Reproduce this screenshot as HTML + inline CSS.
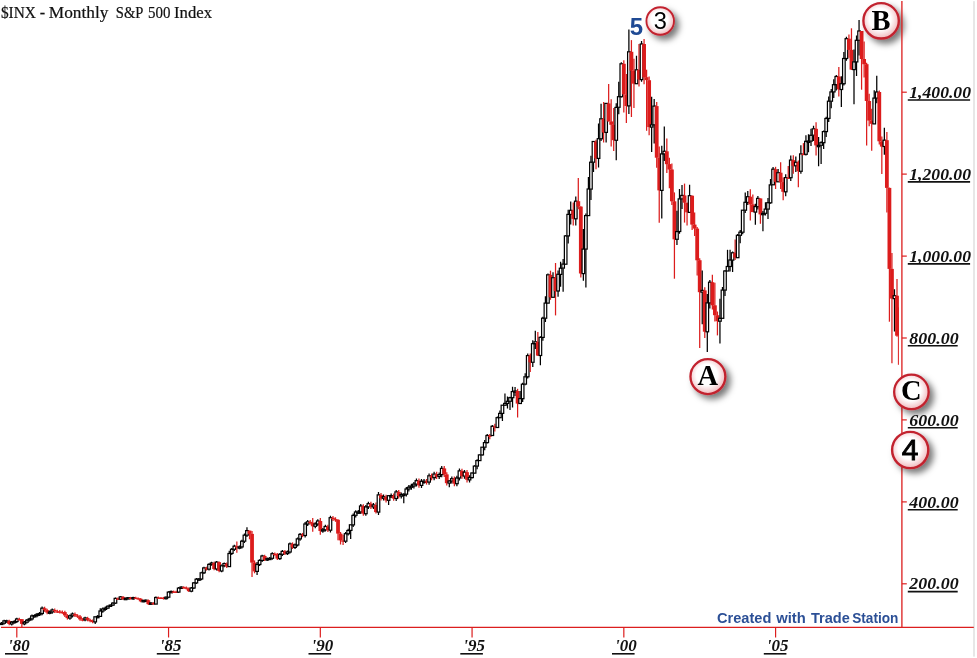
<!DOCTYPE html>
<html><head><meta charset="utf-8"><title>$INX - Monthly S&amp;P 500 Index</title>
<style>
html,body{margin:0;padding:0;background:#fff;}
body{width:977px;height:658px;overflow:hidden;position:relative;}
svg{position:absolute;left:0;top:0;display:block}
.ser{font-family:"Liberation Serif",serif;}
.ttl{font-family:"Liberation Serif",serif;font-size:15.8px;fill:#111;stroke:#111;stroke-width:0.2px;}
.ax{font-family:"Liberation Serif",serif;font-weight:bold;font-style:italic;font-size:16px;fill:#111;}
.mk{font-family:"Liberation Serif",serif;font-weight:bold;fill:#000;}
.ms{font-family:"Liberation Sans",sans-serif;fill:#000;}
.cr{font-family:"Liberation Sans",sans-serif;font-weight:bold;font-size:15.2px;fill:#2b4f96;}
.five{font-family:"Liberation Sans",sans-serif;font-weight:bold;font-size:24px;fill:#1f4a94;}
</style></head><body>
<svg width="977" height="658" viewBox="0 0 977 658">
<defs>
<radialGradient id="rg" cx="47%" cy="45%" r="55%"><stop offset="0" stop-color="#fff"/><stop offset="0.55" stop-color="#fff"/><stop offset="1" stop-color="#f0b9bd"/></radialGradient>
<filter id="sh" x="-40%" y="-40%" width="200%" height="200%"><feDropShadow dx="4.2" dy="4.2" stdDeviation="3" flood-color="#000" flood-opacity="0.52"/></filter>
<filter id="bl" x="0" y="0" width="977" height="658" filterUnits="userSpaceOnUse"><feGaussianBlur stdDeviation="0.25"/></filter>
</defs>
<rect width="977" height="658" fill="#fff"/>
<rect x="973" y="1.2" width="2" height="655.4" fill="#e7e7e7"/>

<text y="17.7" class="ttl"><tspan x="0.9" textLength="35.0" lengthAdjust="spacingAndGlyphs">$INX</tspan> <tspan x="39.8" textLength="5.4" lengthAdjust="spacingAndGlyphs">-</tspan> <tspan x="48.8" textLength="59.6" lengthAdjust="spacingAndGlyphs">Monthly</tspan> <tspan x="115.8" textLength="27.0" lengthAdjust="spacingAndGlyphs">S&amp;P</tspan> <tspan x="148.1" textLength="22.4" lengthAdjust="spacingAndGlyphs">500</tspan> <tspan x="174.0" textLength="38.0" lengthAdjust="spacingAndGlyphs">Index</tspan></text>
<g id="candles" filter="url(#bl)"><path d="M1.62 622.0V623.2M1.62 623.6V624.9" stroke="#000" stroke-width="1.25"/>
<rect x="0.33" y="623.2" width="2.58" height="1.3" fill="#fff" stroke="#000" stroke-width="1.22"/>
<path d="M4.15 619.7V620.9M4.15 623.2V624.6" stroke="#000" stroke-width="1.25"/>
<rect x="2.86" y="620.9" width="2.58" height="2.3" fill="#fff" stroke="#000" stroke-width="1.22"/>
<path d="M6.68 619.7V620.9M6.68 620.9V622.3" stroke="#000" stroke-width="1.25"/>
<rect x="5.39" y="620.9" width="2.58" height="1.3" fill="#fff" stroke="#000" stroke-width="1.22"/>
<path d="M9.21 619.8V625.3" stroke="#dc1e1e" stroke-width="1.25"/>
<rect x="7.31" y="620.9" width="3.8" height="3.1" fill="#dc1e1e"/>
<path d="M11.74 621.1V622.2M11.74 624.0V625.4" stroke="#000" stroke-width="1.25"/>
<rect x="10.45" y="622.2" width="2.58" height="1.8" fill="#fff" stroke="#000" stroke-width="1.22"/>
<path d="M14.27 620.3V621.5M14.27 622.2V623.6" stroke="#000" stroke-width="1.25"/>
<rect x="12.98" y="621.5" width="2.58" height="1.3" fill="#fff" stroke="#000" stroke-width="1.22"/>
<path d="M16.80 617.7V619.0M16.80 621.5V622.9" stroke="#000" stroke-width="1.25"/>
<rect x="15.51" y="619.0" width="2.58" height="2.5" fill="#fff" stroke="#000" stroke-width="1.22"/>
<path d="M19.33 617.7V620.6" stroke="#dc1e1e" stroke-width="1.25"/>
<rect x="17.43" y="619.0" width="3.8" height="1.3" fill="#dc1e1e"/>
<path d="M21.86 618.9V627.1" stroke="#dc1e1e" stroke-width="1.25"/>
<rect x="19.96" y="619.2" width="3.8" height="4.7" fill="#dc1e1e"/>
<path d="M24.39 621.0V622.2M24.39 623.9V625.2" stroke="#000" stroke-width="1.25"/>
<rect x="23.10" y="622.2" width="2.58" height="1.7" fill="#fff" stroke="#000" stroke-width="1.22"/>
<path d="M26.92 618.9V620.2M26.92 622.2V623.6" stroke="#000" stroke-width="1.25"/>
<rect x="25.63" y="620.2" width="2.58" height="2.0" fill="#fff" stroke="#000" stroke-width="1.22"/>
<path d="M29.45 617.7V618.9M29.45 620.2V621.6" stroke="#000" stroke-width="1.25"/>
<rect x="28.16" y="618.9" width="2.58" height="1.3" fill="#fff" stroke="#000" stroke-width="1.22"/>
<path d="M31.98 614.5V615.9M31.98 618.9V620.5" stroke="#000" stroke-width="1.25"/>
<rect x="30.69" y="615.9" width="2.58" height="3.0" fill="#fff" stroke="#000" stroke-width="1.22"/>
<path d="M34.51 614.2V615.6M34.51 615.9V617.4" stroke="#000" stroke-width="1.25"/>
<rect x="33.22" y="615.6" width="2.58" height="1.3" fill="#fff" stroke="#000" stroke-width="1.22"/>
<path d="M37.03 612.9V614.3M37.03 615.6V617.2" stroke="#000" stroke-width="1.25"/>
<rect x="35.74" y="614.3" width="2.58" height="1.3" fill="#fff" stroke="#000" stroke-width="1.22"/>
<path d="M39.56 612.1V613.5M39.56 614.3V615.9" stroke="#000" stroke-width="1.25"/>
<rect x="38.27" y="613.5" width="2.58" height="1.3" fill="#fff" stroke="#000" stroke-width="1.22"/>
<path d="M42.09 606.6V608.2M42.09 613.5V615.3" stroke="#000" stroke-width="1.25"/>
<rect x="40.80" y="608.2" width="2.58" height="5.3" fill="#fff" stroke="#000" stroke-width="1.22"/>
<path d="M44.62 606.7V611.8" stroke="#dc1e1e" stroke-width="1.25"/>
<rect x="42.72" y="608.2" width="3.8" height="2.0" fill="#dc1e1e"/>
<path d="M47.15 608.7V614.3" stroke="#dc1e1e" stroke-width="1.25"/>
<rect x="45.25" y="610.1" width="3.8" height="2.5" fill="#dc1e1e"/>
<path d="M49.68 610.5V612.0M49.68 612.7V614.3" stroke="#000" stroke-width="1.25"/>
<rect x="48.39" y="612.0" width="2.58" height="1.3" fill="#fff" stroke="#000" stroke-width="1.22"/>
<path d="M52.21 608.5V610.0M52.21 612.0V613.7" stroke="#000" stroke-width="1.25"/>
<rect x="50.92" y="610.0" width="2.58" height="1.9" fill="#fff" stroke="#000" stroke-width="1.22"/>
<path d="M54.74 608.5V613.0" stroke="#dc1e1e" stroke-width="1.25"/>
<rect x="52.84" y="610.0" width="3.8" height="1.3" fill="#dc1e1e"/>
<path d="M57.27 609.8V613.1" stroke="#dc1e1e" stroke-width="1.25"/>
<rect x="55.37" y="611.3" width="3.8" height="1.3" fill="#dc1e1e"/>
<path d="M59.80 610.0V613.6" stroke="#dc1e1e" stroke-width="1.25"/>
<rect x="57.90" y="611.4" width="3.8" height="1.3" fill="#dc1e1e"/>
<path d="M62.33 610.5V613.7" stroke="#dc1e1e" stroke-width="1.25"/>
<rect x="60.43" y="612.0" width="3.8" height="1.3" fill="#dc1e1e"/>
<path d="M64.86 610.7V617.0" stroke="#dc1e1e" stroke-width="1.25"/>
<rect x="62.96" y="612.1" width="3.8" height="3.3" fill="#dc1e1e"/>
<path d="M67.39 614.1V619.6" stroke="#dc1e1e" stroke-width="1.25"/>
<rect x="65.49" y="615.4" width="3.8" height="2.7" fill="#dc1e1e"/>
<path d="M69.92 614.4V615.8M69.92 618.1V619.7" stroke="#000" stroke-width="1.25"/>
<rect x="68.63" y="615.8" width="2.58" height="2.3" fill="#fff" stroke="#000" stroke-width="1.22"/>
<path d="M72.44 612.6V614.0M72.44 615.8V617.4" stroke="#000" stroke-width="1.25"/>
<rect x="71.15" y="614.0" width="2.58" height="1.8" fill="#fff" stroke="#000" stroke-width="1.22"/>
<path d="M74.97 612.6V617.1" stroke="#dc1e1e" stroke-width="1.25"/>
<rect x="73.07" y="614.0" width="3.8" height="1.6" fill="#dc1e1e"/>
<path d="M77.50 614.2V617.9" stroke="#dc1e1e" stroke-width="1.25"/>
<rect x="75.60" y="615.5" width="3.8" height="1.3" fill="#dc1e1e"/>
<path d="M80.03 615.1V620.8" stroke="#dc1e1e" stroke-width="1.25"/>
<rect x="78.13" y="616.4" width="3.8" height="3.0" fill="#dc1e1e"/>
<path d="M82.56 618.1V621.3" stroke="#dc1e1e" stroke-width="1.25"/>
<rect x="80.66" y="619.4" width="3.8" height="1.3" fill="#dc1e1e"/>
<path d="M85.09 616.7V618.0M85.09 619.9V621.3" stroke="#000" stroke-width="1.25"/>
<rect x="83.80" y="618.0" width="2.58" height="1.8" fill="#fff" stroke="#000" stroke-width="1.22"/>
<path d="M87.62 616.8V621.3" stroke="#dc1e1e" stroke-width="1.25"/>
<rect x="85.72" y="618.0" width="3.8" height="1.9" fill="#dc1e1e"/>
<path d="M90.15 618.7V622.2" stroke="#dc1e1e" stroke-width="1.25"/>
<rect x="88.25" y="619.9" width="3.8" height="1.3" fill="#dc1e1e"/>
<path d="M92.68 619.6V623.2" stroke="#dc1e1e" stroke-width="1.25"/>
<rect x="90.78" y="620.8" width="3.8" height="1.3" fill="#dc1e1e"/>
<path d="M95.21 616.5V616.8M95.21 621.9V623.9" stroke="#000" stroke-width="1.25"/>
<rect x="93.92" y="616.8" width="2.58" height="5.1" fill="#fff" stroke="#000" stroke-width="1.22"/>
<path d="M97.74 615.1V616.4M97.74 616.8V618.3" stroke="#000" stroke-width="1.25"/>
<rect x="96.45" y="616.4" width="2.58" height="1.3" fill="#fff" stroke="#000" stroke-width="1.22"/>
<path d="M100.27 608.2V611.0M100.27 616.4V616.4" stroke="#000" stroke-width="1.25"/>
<rect x="98.98" y="611.0" width="2.58" height="5.4" fill="#fff" stroke="#000" stroke-width="1.22"/>
<path d="M102.80 607.4V609.0M102.80 611.0V612.7" stroke="#000" stroke-width="1.25"/>
<rect x="101.51" y="609.0" width="2.58" height="2.0" fill="#fff" stroke="#000" stroke-width="1.22"/>
<path d="M105.33 606.6V608.1M105.33 609.0V610.7" stroke="#000" stroke-width="1.25"/>
<rect x="104.04" y="608.1" width="2.58" height="1.3" fill="#fff" stroke="#000" stroke-width="1.22"/>
<path d="M107.85 605.5V606.2M107.85 608.1V608.9" stroke="#000" stroke-width="1.25"/>
<rect x="106.56" y="606.2" width="2.58" height="1.9" fill="#fff" stroke="#000" stroke-width="1.22"/>
<path d="M110.38 604.4V605.1M110.38 606.2V607.0" stroke="#000" stroke-width="1.25"/>
<rect x="109.09" y="605.1" width="2.58" height="1.3" fill="#fff" stroke="#000" stroke-width="1.22"/>
<path d="M112.91 602.3V603.1M112.91 605.1V605.9" stroke="#000" stroke-width="1.25"/>
<rect x="111.62" y="603.1" width="2.58" height="2.0" fill="#fff" stroke="#000" stroke-width="1.22"/>
<path d="M115.44 597.6V598.4M115.44 603.1V604.0" stroke="#000" stroke-width="1.25"/>
<rect x="114.15" y="598.4" width="2.58" height="4.7" fill="#fff" stroke="#000" stroke-width="1.22"/>
<path d="M117.97 597.6V600.1" stroke="#dc1e1e" stroke-width="1.25"/>
<rect x="116.07" y="598.4" width="3.8" height="1.3" fill="#dc1e1e"/>
<path d="M120.50 596.0V596.9M120.50 599.2V600.1" stroke="#000" stroke-width="1.25"/>
<rect x="119.21" y="596.9" width="2.58" height="2.3" fill="#fff" stroke="#000" stroke-width="1.22"/>
<path d="M123.03 596.1V600.0" stroke="#dc1e1e" stroke-width="1.25"/>
<rect x="121.13" y="596.9" width="3.8" height="2.3" fill="#dc1e1e"/>
<path d="M125.56 597.6V598.4M125.56 599.1V600.0" stroke="#000" stroke-width="1.25"/>
<rect x="124.27" y="598.4" width="2.58" height="1.3" fill="#fff" stroke="#000" stroke-width="1.22"/>
<path d="M128.09 596.9V597.7M128.09 598.4V599.3" stroke="#000" stroke-width="1.25"/>
<rect x="126.80" y="597.7" width="2.58" height="1.3" fill="#fff" stroke="#000" stroke-width="1.22"/>
<path d="M130.62 596.9V599.6" stroke="#dc1e1e" stroke-width="1.25"/>
<rect x="128.72" y="597.7" width="3.8" height="1.3" fill="#dc1e1e"/>
<path d="M133.15 596.7V597.6M133.15 598.7V599.7" stroke="#000" stroke-width="1.25"/>
<rect x="131.86" y="597.6" width="2.58" height="1.3" fill="#fff" stroke="#000" stroke-width="1.22"/>
<path d="M135.68 596.8V599.1" stroke="#dc1e1e" stroke-width="1.25"/>
<rect x="133.78" y="597.6" width="3.8" height="1.3" fill="#dc1e1e"/>
<path d="M138.21 597.4V599.7" stroke="#dc1e1e" stroke-width="1.25"/>
<rect x="136.31" y="598.2" width="3.8" height="1.3" fill="#dc1e1e"/>
<path d="M140.74 598.0V602.3" stroke="#dc1e1e" stroke-width="1.25"/>
<rect x="138.84" y="598.8" width="3.8" height="2.6" fill="#dc1e1e"/>
<path d="M143.27 599.7V600.5M143.27 601.4V602.3" stroke="#000" stroke-width="1.25"/>
<rect x="141.98" y="600.5" width="2.58" height="1.3" fill="#fff" stroke="#000" stroke-width="1.22"/>
<path d="M145.79 599.4V600.2M145.79 600.5V601.4" stroke="#000" stroke-width="1.25"/>
<rect x="144.50" y="600.2" width="2.58" height="1.3" fill="#fff" stroke="#000" stroke-width="1.22"/>
<path d="M148.32 599.4V604.9" stroke="#dc1e1e" stroke-width="1.25"/>
<rect x="146.42" y="600.2" width="3.8" height="3.9" fill="#dc1e1e"/>
<path d="M150.85 602.2V603.0M150.85 604.1V604.9" stroke="#000" stroke-width="1.25"/>
<rect x="149.56" y="603.0" width="2.58" height="1.3" fill="#fff" stroke="#000" stroke-width="1.22"/>
<path d="M153.38 602.2V604.8" stroke="#dc1e1e" stroke-width="1.25"/>
<rect x="151.48" y="603.0" width="3.8" height="1.3" fill="#dc1e1e"/>
<path d="M155.91 596.6V597.5M155.91 604.0V604.0" stroke="#000" stroke-width="1.25"/>
<rect x="154.62" y="597.5" width="2.58" height="6.6" fill="#fff" stroke="#000" stroke-width="1.22"/>
<path d="M158.44 596.6V598.6" stroke="#dc1e1e" stroke-width="1.25"/>
<rect x="156.54" y="597.5" width="3.8" height="1.3" fill="#dc1e1e"/>
<path d="M160.97 596.9V598.6" stroke="#dc1e1e" stroke-width="1.25"/>
<rect x="159.07" y="597.7" width="3.8" height="1.3" fill="#dc1e1e"/>
<path d="M163.50 596.9V599.6" stroke="#dc1e1e" stroke-width="1.25"/>
<rect x="161.60" y="597.7" width="3.8" height="1.3" fill="#dc1e1e"/>
<path d="M166.03 596.4V597.2M166.03 598.7V599.6" stroke="#000" stroke-width="1.25"/>
<rect x="164.74" y="597.2" width="2.58" height="1.5" fill="#fff" stroke="#000" stroke-width="1.22"/>
<path d="M168.56 591.3V592.1M168.56 597.2V598.2" stroke="#000" stroke-width="1.25"/>
<rect x="167.27" y="592.1" width="2.58" height="5.1" fill="#fff" stroke="#000" stroke-width="1.22"/>
<path d="M171.09 590.6V591.5M171.09 592.1V593.1" stroke="#000" stroke-width="1.25"/>
<rect x="169.80" y="591.5" width="2.58" height="1.3" fill="#fff" stroke="#000" stroke-width="1.22"/>
<path d="M173.62 590.6V592.7" stroke="#dc1e1e" stroke-width="1.25"/>
<rect x="171.72" y="591.5" width="3.8" height="1.3" fill="#dc1e1e"/>
<path d="M176.15 590.8V593.1" stroke="#dc1e1e" stroke-width="1.25"/>
<rect x="174.25" y="591.7" width="3.8" height="1.3" fill="#dc1e1e"/>
<path d="M178.68 587.1V588.1M178.68 592.1V593.1" stroke="#000" stroke-width="1.25"/>
<rect x="177.39" y="588.1" width="2.58" height="4.0" fill="#fff" stroke="#000" stroke-width="1.22"/>
<path d="M181.20 586.2V587.1M181.20 588.1V589.1" stroke="#000" stroke-width="1.25"/>
<rect x="179.91" y="587.1" width="2.58" height="1.3" fill="#fff" stroke="#000" stroke-width="1.22"/>
<path d="M183.73 586.2V588.6" stroke="#dc1e1e" stroke-width="1.25"/>
<rect x="181.83" y="587.1" width="3.8" height="1.3" fill="#dc1e1e"/>
<path d="M186.26 586.6V589.5" stroke="#dc1e1e" stroke-width="1.25"/>
<rect x="184.36" y="587.5" width="3.8" height="1.3" fill="#dc1e1e"/>
<path d="M188.79 587.6V592.1" stroke="#dc1e1e" stroke-width="1.25"/>
<rect x="186.89" y="588.5" width="3.8" height="2.7" fill="#dc1e1e"/>
<path d="M191.32 587.0V588.0M191.32 591.1V592.2" stroke="#000" stroke-width="1.25"/>
<rect x="190.03" y="588.0" width="2.58" height="3.2" fill="#fff" stroke="#000" stroke-width="1.22"/>
<path d="M193.85 581.9V582.9M193.85 588.0V589.1" stroke="#000" stroke-width="1.25"/>
<rect x="192.56" y="582.9" width="2.58" height="5.1" fill="#fff" stroke="#000" stroke-width="1.22"/>
<path d="M196.38 578.1V579.2M196.38 582.9V584.1" stroke="#000" stroke-width="1.25"/>
<rect x="195.09" y="579.2" width="2.58" height="3.7" fill="#fff" stroke="#000" stroke-width="1.22"/>
<path d="M198.91 577.9V579.0M198.91 579.2V580.4" stroke="#000" stroke-width="1.25"/>
<rect x="197.62" y="579.0" width="2.58" height="1.3" fill="#fff" stroke="#000" stroke-width="1.22"/>
<path d="M201.44 571.7V572.8M201.44 579.0V580.2" stroke="#000" stroke-width="1.25"/>
<rect x="200.15" y="572.8" width="2.58" height="6.2" fill="#fff" stroke="#000" stroke-width="1.22"/>
<path d="M203.97 566.7V567.9M203.97 572.8V574.1" stroke="#000" stroke-width="1.25"/>
<rect x="202.68" y="567.9" width="2.58" height="4.9" fill="#fff" stroke="#000" stroke-width="1.22"/>
<path d="M206.50 566.7V570.6" stroke="#dc1e1e" stroke-width="1.25"/>
<rect x="204.60" y="567.9" width="3.8" height="1.4" fill="#dc1e1e"/>
<path d="M209.03 563.2V564.4M209.03 569.2V570.6" stroke="#000" stroke-width="1.25"/>
<rect x="207.74" y="564.4" width="2.58" height="4.8" fill="#fff" stroke="#000" stroke-width="1.22"/>
<path d="M211.56 561.7V563.0M211.56 564.4V565.8" stroke="#000" stroke-width="1.25"/>
<rect x="210.27" y="563.0" width="2.58" height="1.4" fill="#fff" stroke="#000" stroke-width="1.22"/>
<path d="M214.09 561.8V570.3" stroke="#dc1e1e" stroke-width="1.25"/>
<rect x="212.19" y="563.0" width="3.8" height="6.0" fill="#dc1e1e"/>
<path d="M216.61 560.9V562.1M216.61 569.0V570.4" stroke="#000" stroke-width="1.25"/>
<rect x="215.32" y="562.1" width="2.58" height="6.9" fill="#fff" stroke="#000" stroke-width="1.22"/>
<path d="M219.14 561.6V572.3" stroke="#dc1e1e" stroke-width="1.25"/>
<rect x="217.24" y="562.1" width="3.8" height="8.9" fill="#dc1e1e"/>
<path d="M221.67 564.6V565.8M221.67 571.0V572.3" stroke="#000" stroke-width="1.25"/>
<rect x="220.38" y="565.8" width="2.58" height="5.2" fill="#fff" stroke="#000" stroke-width="1.22"/>
<path d="M224.20 562.4V563.6M224.20 565.8V567.2" stroke="#000" stroke-width="1.25"/>
<rect x="222.91" y="563.6" width="2.58" height="2.1" fill="#fff" stroke="#000" stroke-width="1.22"/>
<path d="M226.73 562.4V567.9" stroke="#dc1e1e" stroke-width="1.25"/>
<rect x="224.83" y="563.6" width="3.8" height="2.9" fill="#dc1e1e"/>
<path d="M229.26 550.7V553.5M229.26 566.5V566.5" stroke="#000" stroke-width="1.25"/>
<rect x="227.97" y="553.5" width="2.58" height="13.1" fill="#fff" stroke="#000" stroke-width="1.22"/>
<path d="M231.79 547.9V549.3M231.79 553.5V555.0" stroke="#000" stroke-width="1.25"/>
<rect x="230.50" y="549.3" width="2.58" height="4.1" fill="#fff" stroke="#000" stroke-width="1.22"/>
<path d="M234.32 544.8V546.2M234.32 549.3V550.9" stroke="#000" stroke-width="1.25"/>
<rect x="233.03" y="546.2" width="2.58" height="3.1" fill="#fff" stroke="#000" stroke-width="1.22"/>
<path d="M236.85 541.4V552.8" stroke="#dc1e1e" stroke-width="1.25"/>
<rect x="234.95" y="546.2" width="3.8" height="1.4" fill="#dc1e1e"/>
<path d="M239.38 545.5V546.9M239.38 547.6V549.2" stroke="#000" stroke-width="1.25"/>
<rect x="238.09" y="546.9" width="2.58" height="1.3" fill="#fff" stroke="#000" stroke-width="1.22"/>
<path d="M241.91 539.7V541.2M241.91 546.9V548.6" stroke="#000" stroke-width="1.25"/>
<rect x="240.62" y="541.2" width="2.58" height="5.7" fill="#fff" stroke="#000" stroke-width="1.22"/>
<path d="M244.44 533.6V535.2M244.44 541.2V543.0" stroke="#000" stroke-width="1.25"/>
<rect x="243.15" y="535.2" width="2.58" height="6.0" fill="#fff" stroke="#000" stroke-width="1.22"/>
<path d="M246.97 527.3V530.6M246.97 535.2V536.9" stroke="#000" stroke-width="1.25"/>
<rect x="245.68" y="530.6" width="2.58" height="4.6" fill="#fff" stroke="#000" stroke-width="1.22"/>
<path d="M249.50 530.6V539.3" stroke="#dc1e1e" stroke-width="1.25"/>
<rect x="247.60" y="530.6" width="3.8" height="3.3" fill="#dc1e1e"/>
<path d="M252.02 531.0V577.0" stroke="#dc1e1e" stroke-width="1.25"/>
<rect x="250.12" y="533.9" width="3.8" height="28.7" fill="#dc1e1e"/>
<path d="M254.55 560.4V573.3" stroke="#dc1e1e" stroke-width="1.25"/>
<rect x="252.65" y="562.6" width="3.8" height="8.8" fill="#dc1e1e"/>
<path d="M257.08 561.9V564.5M257.08 571.4V575.1" stroke="#000" stroke-width="1.25"/>
<rect x="255.79" y="564.5" width="2.58" height="6.9" fill="#fff" stroke="#000" stroke-width="1.22"/>
<path d="M259.61 559.2V560.4M259.61 564.5V565.9" stroke="#000" stroke-width="1.25"/>
<rect x="258.32" y="560.4" width="2.58" height="4.1" fill="#fff" stroke="#000" stroke-width="1.22"/>
<path d="M262.14 554.7V556.0M262.14 560.4V561.9" stroke="#000" stroke-width="1.25"/>
<rect x="260.85" y="556.0" width="2.58" height="4.4" fill="#fff" stroke="#000" stroke-width="1.22"/>
<path d="M264.67 554.7V561.1" stroke="#dc1e1e" stroke-width="1.25"/>
<rect x="262.77" y="556.0" width="3.8" height="3.7" fill="#dc1e1e"/>
<path d="M267.20 557.4V558.7M267.20 559.7V561.1" stroke="#000" stroke-width="1.25"/>
<rect x="265.91" y="558.7" width="2.58" height="1.3" fill="#fff" stroke="#000" stroke-width="1.22"/>
<path d="M269.73 557.0V558.3M269.73 558.7V560.1" stroke="#000" stroke-width="1.25"/>
<rect x="268.44" y="558.3" width="2.58" height="1.3" fill="#fff" stroke="#000" stroke-width="1.22"/>
<path d="M272.26 552.3V553.7M272.26 558.3V559.8" stroke="#000" stroke-width="1.25"/>
<rect x="270.97" y="553.7" width="2.58" height="4.6" fill="#fff" stroke="#000" stroke-width="1.22"/>
<path d="M274.79 552.4V555.8" stroke="#dc1e1e" stroke-width="1.25"/>
<rect x="272.89" y="553.7" width="3.8" height="1.3" fill="#dc1e1e"/>
<path d="M277.32 553.0V560.0" stroke="#dc1e1e" stroke-width="1.25"/>
<rect x="275.42" y="554.3" width="3.8" height="4.3" fill="#dc1e1e"/>
<path d="M279.85 553.0V554.3M279.85 558.6V560.1" stroke="#000" stroke-width="1.25"/>
<rect x="278.56" y="554.3" width="2.58" height="4.3" fill="#fff" stroke="#000" stroke-width="1.22"/>
<path d="M282.38 550.1V551.4M282.38 554.3V555.9" stroke="#000" stroke-width="1.25"/>
<rect x="281.09" y="551.4" width="2.58" height="2.9" fill="#fff" stroke="#000" stroke-width="1.22"/>
<path d="M284.91 550.1V555.1" stroke="#dc1e1e" stroke-width="1.25"/>
<rect x="283.01" y="551.4" width="3.8" height="2.2" fill="#dc1e1e"/>
<path d="M287.44 550.6V552.0M287.44 553.6V555.1" stroke="#000" stroke-width="1.25"/>
<rect x="286.15" y="552.0" width="2.58" height="1.6" fill="#fff" stroke="#000" stroke-width="1.22"/>
<path d="M289.96 542.4V543.9M289.96 552.0V553.6" stroke="#000" stroke-width="1.25"/>
<rect x="288.67" y="543.9" width="2.58" height="8.1" fill="#fff" stroke="#000" stroke-width="1.22"/>
<path d="M292.49 542.4V549.0" stroke="#dc1e1e" stroke-width="1.25"/>
<rect x="290.59" y="543.9" width="3.8" height="3.5" fill="#dc1e1e"/>
<path d="M295.02 543.5V544.9M295.02 547.4V549.0" stroke="#000" stroke-width="1.25"/>
<rect x="293.73" y="544.9" width="2.58" height="2.5" fill="#fff" stroke="#000" stroke-width="1.22"/>
<path d="M297.55 537.4V538.9M297.55 544.9V546.6" stroke="#000" stroke-width="1.25"/>
<rect x="296.26" y="538.9" width="2.58" height="6.1" fill="#fff" stroke="#000" stroke-width="1.22"/>
<path d="M300.08 532.9V534.4M300.08 538.9V540.7" stroke="#000" stroke-width="1.25"/>
<rect x="298.79" y="534.4" width="2.58" height="4.5" fill="#fff" stroke="#000" stroke-width="1.22"/>
<path d="M302.61 532.9V537.2" stroke="#dc1e1e" stroke-width="1.25"/>
<rect x="300.71" y="534.4" width="3.8" height="1.3" fill="#dc1e1e"/>
<path d="M305.14 522.1V524.0M305.14 535.5V537.5" stroke="#000" stroke-width="1.25"/>
<rect x="303.85" y="524.0" width="2.58" height="11.5" fill="#fff" stroke="#000" stroke-width="1.22"/>
<path d="M307.67 520.0V521.8M307.67 524.0V525.9" stroke="#000" stroke-width="1.25"/>
<rect x="306.38" y="521.8" width="2.58" height="2.2" fill="#fff" stroke="#000" stroke-width="1.22"/>
<path d="M310.20 520.0V524.6" stroke="#dc1e1e" stroke-width="1.25"/>
<rect x="308.30" y="521.8" width="3.8" height="1.3" fill="#dc1e1e"/>
<path d="M312.73 518.1V531.7" stroke="#dc1e1e" stroke-width="1.25"/>
<rect x="310.83" y="522.7" width="3.8" height="3.6" fill="#dc1e1e"/>
<path d="M315.26 522.3V524.0M315.26 526.3V528.2" stroke="#000" stroke-width="1.25"/>
<rect x="313.97" y="524.0" width="2.58" height="2.3" fill="#fff" stroke="#000" stroke-width="1.22"/>
<path d="M317.79 519.2V521.0M317.79 524.0V525.9" stroke="#000" stroke-width="1.25"/>
<rect x="316.50" y="521.0" width="2.58" height="3.0" fill="#fff" stroke="#000" stroke-width="1.22"/>
<path d="M320.32 518.0V534.7" stroke="#dc1e1e" stroke-width="1.25"/>
<rect x="318.42" y="521.0" width="3.8" height="10.0" fill="#dc1e1e"/>
<path d="M322.85 528.1V529.8M322.85 530.9V532.8" stroke="#000" stroke-width="1.25"/>
<rect x="321.56" y="529.8" width="2.58" height="1.3" fill="#fff" stroke="#000" stroke-width="1.22"/>
<path d="M325.37 524.8V526.5M325.37 529.8V531.6" stroke="#000" stroke-width="1.25"/>
<rect x="324.08" y="526.5" width="2.58" height="3.3" fill="#fff" stroke="#000" stroke-width="1.22"/>
<path d="M327.90 524.8V532.0" stroke="#dc1e1e" stroke-width="1.25"/>
<rect x="326.00" y="526.5" width="3.8" height="3.7" fill="#dc1e1e"/>
<path d="M330.43 515.8V517.7M330.43 530.2V532.5" stroke="#000" stroke-width="1.25"/>
<rect x="329.14" y="517.7" width="2.58" height="12.5" fill="#fff" stroke="#000" stroke-width="1.22"/>
<path d="M332.96 516.0V521.0" stroke="#dc1e1e" stroke-width="1.25"/>
<rect x="331.06" y="517.7" width="3.8" height="1.3" fill="#dc1e1e"/>
<path d="M335.49 517.3V521.8" stroke="#dc1e1e" stroke-width="1.25"/>
<rect x="333.59" y="519.1" width="3.8" height="1.3" fill="#dc1e1e"/>
<path d="M338.02 519.3V540.3" stroke="#dc1e1e" stroke-width="1.25"/>
<rect x="336.12" y="519.8" width="3.8" height="13.8" fill="#dc1e1e"/>
<path d="M340.55 532.0V544.5" stroke="#dc1e1e" stroke-width="1.25"/>
<rect x="338.65" y="533.6" width="3.8" height="6.8" fill="#dc1e1e"/>
<path d="M343.08 534.8V545.1" stroke="#dc1e1e" stroke-width="1.25"/>
<rect x="341.18" y="540.4" width="3.8" height="1.3" fill="#dc1e1e"/>
<path d="M345.61 532.1V533.7M345.61 541.2V543.0" stroke="#000" stroke-width="1.25"/>
<rect x="344.32" y="533.7" width="2.58" height="7.5" fill="#fff" stroke="#000" stroke-width="1.22"/>
<path d="M348.14 528.8V530.5M348.14 533.7V535.6" stroke="#000" stroke-width="1.25"/>
<rect x="346.85" y="530.5" width="2.58" height="3.3" fill="#fff" stroke="#000" stroke-width="1.22"/>
<path d="M350.67 524.8V524.8M350.67 530.5V539.0" stroke="#000" stroke-width="1.25"/>
<rect x="349.38" y="524.8" width="2.58" height="5.6" fill="#fff" stroke="#000" stroke-width="1.22"/>
<path d="M353.20 513.6V515.4M353.20 524.8V526.9" stroke="#000" stroke-width="1.25"/>
<rect x="351.91" y="515.4" width="2.58" height="9.5" fill="#fff" stroke="#000" stroke-width="1.22"/>
<path d="M355.73 510.2V512.0M355.73 515.4V517.4" stroke="#000" stroke-width="1.25"/>
<rect x="354.44" y="512.0" width="2.58" height="3.3" fill="#fff" stroke="#000" stroke-width="1.22"/>
<path d="M358.26 510.1V512.0M358.26 512.0V514.1" stroke="#000" stroke-width="1.25"/>
<rect x="356.97" y="512.0" width="2.58" height="1.3" fill="#fff" stroke="#000" stroke-width="1.22"/>
<path d="M360.78 504.1V506.0M360.78 512.0V514.1" stroke="#000" stroke-width="1.25"/>
<rect x="359.49" y="506.0" width="2.58" height="5.9" fill="#fff" stroke="#000" stroke-width="1.22"/>
<path d="M363.31 504.2V515.7" stroke="#dc1e1e" stroke-width="1.25"/>
<rect x="361.41" y="506.0" width="3.8" height="7.6" fill="#dc1e1e"/>
<path d="M365.84 505.0V506.9M365.84 513.7V515.8" stroke="#000" stroke-width="1.25"/>
<rect x="364.55" y="506.9" width="2.58" height="6.8" fill="#fff" stroke="#000" stroke-width="1.22"/>
<path d="M368.37 501.8V503.7M368.37 506.9V509.0" stroke="#000" stroke-width="1.25"/>
<rect x="367.08" y="503.7" width="2.58" height="3.1" fill="#fff" stroke="#000" stroke-width="1.22"/>
<path d="M370.90 501.8V509.0" stroke="#dc1e1e" stroke-width="1.25"/>
<rect x="369.00" y="503.7" width="3.8" height="3.1" fill="#dc1e1e"/>
<path d="M373.43 503.0V505.0M373.43 506.8V509.0" stroke="#000" stroke-width="1.25"/>
<rect x="372.14" y="505.0" width="2.58" height="1.9" fill="#fff" stroke="#000" stroke-width="1.22"/>
<path d="M375.96 502.6V513.5" stroke="#dc1e1e" stroke-width="1.25"/>
<rect x="374.06" y="505.0" width="3.8" height="7.1" fill="#dc1e1e"/>
<path d="M378.49 492.1V494.9M378.49 512.0V515.1" stroke="#000" stroke-width="1.25"/>
<rect x="377.20" y="494.9" width="2.58" height="17.2" fill="#fff" stroke="#000" stroke-width="1.22"/>
<path d="M381.02 492.9V500.5" stroke="#dc1e1e" stroke-width="1.25"/>
<rect x="379.12" y="494.9" width="3.8" height="3.4" fill="#dc1e1e"/>
<path d="M383.55 494.6V496.7M383.55 498.3V500.6" stroke="#000" stroke-width="1.25"/>
<rect x="382.26" y="496.7" width="2.58" height="1.6" fill="#fff" stroke="#000" stroke-width="1.22"/>
<path d="M386.08 494.7V502.6" stroke="#dc1e1e" stroke-width="1.25"/>
<rect x="384.18" y="496.7" width="3.8" height="3.7" fill="#dc1e1e"/>
<path d="M388.61 495.2V495.7M388.61 500.4V505.0" stroke="#000" stroke-width="1.25"/>
<rect x="387.32" y="495.7" width="2.58" height="4.6" fill="#fff" stroke="#000" stroke-width="1.22"/>
<path d="M391.14 493.5V495.6M391.14 495.7V498.0" stroke="#000" stroke-width="1.25"/>
<rect x="389.85" y="495.6" width="2.58" height="1.3" fill="#fff" stroke="#000" stroke-width="1.22"/>
<path d="M393.67 493.6V500.8" stroke="#dc1e1e" stroke-width="1.25"/>
<rect x="391.77" y="495.6" width="3.8" height="3.0" fill="#dc1e1e"/>
<path d="M396.20 489.9V491.9M396.20 498.5V500.9" stroke="#000" stroke-width="1.25"/>
<rect x="394.91" y="491.9" width="2.58" height="6.6" fill="#fff" stroke="#000" stroke-width="1.22"/>
<path d="M398.72 489.9V498.4" stroke="#dc1e1e" stroke-width="1.25"/>
<rect x="396.82" y="491.9" width="3.8" height="4.2" fill="#dc1e1e"/>
<path d="M401.25 492.5V494.6M401.25 496.1V498.4" stroke="#000" stroke-width="1.25"/>
<rect x="399.96" y="494.6" width="2.58" height="1.5" fill="#fff" stroke="#000" stroke-width="1.22"/>
<path d="M403.78 493.2V494.2M403.78 494.6V503.2" stroke="#000" stroke-width="1.25"/>
<rect x="402.49" y="494.2" width="2.58" height="1.3" fill="#fff" stroke="#000" stroke-width="1.22"/>
<path d="M406.31 486.9V489.0M406.31 494.2V496.6" stroke="#000" stroke-width="1.25"/>
<rect x="405.02" y="489.0" width="2.58" height="5.2" fill="#fff" stroke="#000" stroke-width="1.22"/>
<path d="M408.84 485.1V487.2M408.84 489.0V491.4" stroke="#000" stroke-width="1.25"/>
<rect x="407.55" y="487.2" width="2.58" height="1.8" fill="#fff" stroke="#000" stroke-width="1.22"/>
<path d="M411.37 483.8V486.0M411.37 487.2V489.7" stroke="#000" stroke-width="1.25"/>
<rect x="410.08" y="486.0" width="2.58" height="1.3" fill="#fff" stroke="#000" stroke-width="1.22"/>
<path d="M413.90 481.9V484.1M413.90 486.0V488.4" stroke="#000" stroke-width="1.25"/>
<rect x="412.61" y="484.1" width="2.58" height="1.9" fill="#fff" stroke="#000" stroke-width="1.22"/>
<path d="M416.43 478.5V480.7M416.43 484.1V486.6" stroke="#000" stroke-width="1.25"/>
<rect x="415.14" y="480.7" width="2.58" height="3.4" fill="#fff" stroke="#000" stroke-width="1.22"/>
<path d="M418.96 478.5V487.8" stroke="#dc1e1e" stroke-width="1.25"/>
<rect x="417.06" y="480.7" width="3.8" height="4.7" fill="#dc1e1e"/>
<path d="M421.49 479.1V481.3M421.49 485.4V487.9" stroke="#000" stroke-width="1.25"/>
<rect x="420.20" y="481.3" width="2.58" height="4.1" fill="#fff" stroke="#000" stroke-width="1.22"/>
<path d="M424.02 479.0V481.2M424.02 481.3V483.8" stroke="#000" stroke-width="1.25"/>
<rect x="422.73" y="481.2" width="2.58" height="1.3" fill="#fff" stroke="#000" stroke-width="1.22"/>
<path d="M426.55 479.0V484.6" stroke="#dc1e1e" stroke-width="1.25"/>
<rect x="424.65" y="481.2" width="3.8" height="1.3" fill="#dc1e1e"/>
<path d="M429.08 473.5V475.8M429.08 482.1V484.7" stroke="#000" stroke-width="1.25"/>
<rect x="427.79" y="475.8" width="2.58" height="6.3" fill="#fff" stroke="#000" stroke-width="1.22"/>
<path d="M431.61 473.6V480.3" stroke="#dc1e1e" stroke-width="1.25"/>
<rect x="429.71" y="475.8" width="3.8" height="1.9" fill="#dc1e1e"/>
<path d="M434.13 471.8V474.1M434.13 477.7V480.3" stroke="#000" stroke-width="1.25"/>
<rect x="432.84" y="474.1" width="2.58" height="3.6" fill="#fff" stroke="#000" stroke-width="1.22"/>
<path d="M436.66 471.8V479.1" stroke="#dc1e1e" stroke-width="1.25"/>
<rect x="434.76" y="474.1" width="3.8" height="2.5" fill="#dc1e1e"/>
<path d="M439.19 472.4V474.6M439.19 476.6V479.1" stroke="#000" stroke-width="1.25"/>
<rect x="437.90" y="474.6" width="2.58" height="1.9" fill="#fff" stroke="#000" stroke-width="1.22"/>
<path d="M441.72 466.1V468.4M441.72 474.6V477.3" stroke="#000" stroke-width="1.25"/>
<rect x="440.43" y="468.4" width="2.58" height="6.2" fill="#fff" stroke="#000" stroke-width="1.22"/>
<path d="M444.25 466.1V476.9" stroke="#dc1e1e" stroke-width="1.25"/>
<rect x="442.35" y="468.4" width="3.8" height="5.9" fill="#dc1e1e"/>
<path d="M446.78 472.2V485.6" stroke="#dc1e1e" stroke-width="1.25"/>
<rect x="444.88" y="474.4" width="3.8" height="8.8" fill="#dc1e1e"/>
<path d="M449.31 480.2V481.0M449.31 483.1V487.2" stroke="#000" stroke-width="1.25"/>
<rect x="448.02" y="481.0" width="2.58" height="2.1" fill="#fff" stroke="#000" stroke-width="1.22"/>
<path d="M451.84 476.5V478.7M451.84 481.0V483.5" stroke="#000" stroke-width="1.25"/>
<rect x="450.55" y="478.7" width="2.58" height="2.3" fill="#fff" stroke="#000" stroke-width="1.22"/>
<path d="M454.37 476.5V486.2" stroke="#dc1e1e" stroke-width="1.25"/>
<rect x="452.47" y="478.7" width="3.8" height="5.0" fill="#dc1e1e"/>
<path d="M456.90 475.7V478.0M456.90 483.7V486.3" stroke="#000" stroke-width="1.25"/>
<rect x="455.61" y="478.0" width="2.58" height="5.7" fill="#fff" stroke="#000" stroke-width="1.22"/>
<path d="M459.43 468.6V470.9M459.43 478.0V480.6" stroke="#000" stroke-width="1.25"/>
<rect x="458.14" y="470.9" width="2.58" height="7.1" fill="#fff" stroke="#000" stroke-width="1.22"/>
<path d="M461.96 468.7V478.7" stroke="#dc1e1e" stroke-width="1.25"/>
<rect x="460.06" y="470.9" width="3.8" height="5.2" fill="#dc1e1e"/>
<path d="M464.49 469.9V472.2M464.49 476.2V478.8" stroke="#000" stroke-width="1.25"/>
<rect x="463.20" y="472.2" width="2.58" height="3.9" fill="#fff" stroke="#000" stroke-width="1.22"/>
<path d="M467.02 470.0V482.4" stroke="#dc1e1e" stroke-width="1.25"/>
<rect x="465.12" y="472.2" width="3.8" height="7.6" fill="#dc1e1e"/>
<path d="M469.54 475.3V477.6M469.54 479.9V482.4" stroke="#000" stroke-width="1.25"/>
<rect x="468.25" y="477.6" width="2.58" height="2.3" fill="#fff" stroke="#000" stroke-width="1.22"/>
<path d="M472.07 472.6V473.0M472.07 477.6V478.4" stroke="#000" stroke-width="1.25"/>
<rect x="470.78" y="473.0" width="2.58" height="4.6" fill="#fff" stroke="#000" stroke-width="1.22"/>
<path d="M474.60 465.3V466.1M474.60 473.0V473.5" stroke="#000" stroke-width="1.25"/>
<rect x="473.31" y="466.1" width="2.58" height="7.0" fill="#fff" stroke="#000" stroke-width="1.22"/>
<path d="M477.13 459.3V460.6M477.13 466.1V469.2" stroke="#000" stroke-width="1.25"/>
<rect x="475.84" y="460.6" width="2.58" height="5.5" fill="#fff" stroke="#000" stroke-width="1.22"/>
<path d="M479.66 454.6V454.9M479.66 460.6V460.8" stroke="#000" stroke-width="1.25"/>
<rect x="478.37" y="454.9" width="2.58" height="5.7" fill="#fff" stroke="#000" stroke-width="1.22"/>
<path d="M482.19 447.2V447.2M482.19 454.9V455.6" stroke="#000" stroke-width="1.25"/>
<rect x="480.90" y="447.2" width="2.58" height="7.7" fill="#fff" stroke="#000" stroke-width="1.22"/>
<path d="M484.72 440.0V442.6M484.72 447.2V450.2" stroke="#000" stroke-width="1.25"/>
<rect x="483.43" y="442.6" width="2.58" height="4.6" fill="#fff" stroke="#000" stroke-width="1.22"/>
<path d="M487.25 434.1V435.5M487.25 442.6V443.5" stroke="#000" stroke-width="1.25"/>
<rect x="485.96" y="435.5" width="2.58" height="7.1" fill="#fff" stroke="#000" stroke-width="1.22"/>
<path d="M489.78 434.0V439.2" stroke="#dc1e1e" stroke-width="1.25"/>
<rect x="487.88" y="435.5" width="3.8" height="1.3" fill="#dc1e1e"/>
<path d="M492.31 425.0V426.3M492.31 435.5V435.9" stroke="#000" stroke-width="1.25"/>
<rect x="491.02" y="426.3" width="2.58" height="9.2" fill="#fff" stroke="#000" stroke-width="1.22"/>
<path d="M494.84 423.8V431.6" stroke="#dc1e1e" stroke-width="1.25"/>
<rect x="492.94" y="426.3" width="3.8" height="1.3" fill="#dc1e1e"/>
<path d="M497.37 416.4V417.7M497.37 427.5V427.7" stroke="#000" stroke-width="1.25"/>
<rect x="496.08" y="417.7" width="2.58" height="9.8" fill="#fff" stroke="#000" stroke-width="1.22"/>
<path d="M499.90 410.6V413.4M499.90 417.7V417.9" stroke="#000" stroke-width="1.25"/>
<rect x="498.61" y="413.4" width="2.58" height="4.3" fill="#fff" stroke="#000" stroke-width="1.22"/>
<path d="M502.43 405.1V405.2M502.43 413.4V421.0" stroke="#000" stroke-width="1.25"/>
<rect x="501.14" y="405.2" width="2.58" height="8.2" fill="#fff" stroke="#000" stroke-width="1.22"/>
<path d="M504.95 393.6V403.4M504.95 405.2V406.1" stroke="#000" stroke-width="1.25"/>
<rect x="503.66" y="403.4" width="2.58" height="1.8" fill="#fff" stroke="#000" stroke-width="1.22"/>
<path d="M507.48 396.6V401.3M507.48 403.4V408.6" stroke="#000" stroke-width="1.25"/>
<rect x="506.19" y="401.3" width="2.58" height="2.1" fill="#fff" stroke="#000" stroke-width="1.22"/>
<path d="M510.01 396.7V397.7M510.01 401.3V410.0" stroke="#000" stroke-width="1.25"/>
<rect x="508.72" y="397.7" width="2.58" height="3.6" fill="#fff" stroke="#000" stroke-width="1.22"/>
<path d="M512.54 386.7V391.6M512.54 397.7V407.6" stroke="#000" stroke-width="1.25"/>
<rect x="511.25" y="391.6" width="2.58" height="6.1" fill="#fff" stroke="#000" stroke-width="1.22"/>
<path d="M515.07 387.0V391.0M515.07 391.6V395.9" stroke="#000" stroke-width="1.25"/>
<rect x="513.78" y="391.0" width="2.58" height="1.3" fill="#fff" stroke="#000" stroke-width="1.22"/>
<path d="M517.60 388.8V417.5" stroke="#dc1e1e" stroke-width="1.25"/>
<rect x="515.70" y="391.0" width="3.8" height="12.6" fill="#dc1e1e"/>
<path d="M520.13 391.0V398.6M520.13 403.6V403.8" stroke="#000" stroke-width="1.25"/>
<rect x="518.84" y="398.6" width="2.58" height="4.9" fill="#fff" stroke="#000" stroke-width="1.22"/>
<path d="M522.66 382.7V384.2M522.66 398.6V401.9" stroke="#000" stroke-width="1.25"/>
<rect x="521.37" y="384.2" width="2.58" height="14.5" fill="#fff" stroke="#000" stroke-width="1.22"/>
<path d="M525.19 373.2V376.8M525.19 384.2V385.3" stroke="#000" stroke-width="1.25"/>
<rect x="523.90" y="376.8" width="2.58" height="7.3" fill="#fff" stroke="#000" stroke-width="1.22"/>
<path d="M527.72 353.5V355.6M527.72 376.8V378.4" stroke="#000" stroke-width="1.25"/>
<rect x="526.43" y="355.6" width="2.58" height="21.2" fill="#fff" stroke="#000" stroke-width="1.22"/>
<path d="M530.25 353.6V372.1" stroke="#dc1e1e" stroke-width="1.25"/>
<rect x="528.35" y="355.6" width="3.8" height="6.7" fill="#dc1e1e"/>
<path d="M532.78 340.2V343.7M532.78 362.3V366.9" stroke="#000" stroke-width="1.25"/>
<rect x="531.49" y="343.7" width="2.58" height="18.6" fill="#fff" stroke="#000" stroke-width="1.22"/>
<path d="M535.31 330.8V341.8M535.31 343.7V348.9" stroke="#000" stroke-width="1.25"/>
<rect x="534.02" y="341.8" width="2.58" height="1.9" fill="#fff" stroke="#000" stroke-width="1.22"/>
<path d="M537.84 331.9V356.0" stroke="#dc1e1e" stroke-width="1.25"/>
<rect x="535.94" y="341.8" width="3.8" height="13.8" fill="#dc1e1e"/>
<path d="M540.37 336.3V337.4M540.37 355.6V365.2" stroke="#000" stroke-width="1.25"/>
<rect x="539.08" y="337.4" width="2.58" height="18.1" fill="#fff" stroke="#000" stroke-width="1.22"/>
<path d="M542.89 316.7V318.2M542.89 337.4V340.8" stroke="#000" stroke-width="1.25"/>
<rect x="541.60" y="318.2" width="2.58" height="19.2" fill="#fff" stroke="#000" stroke-width="1.22"/>
<path d="M545.42 296.2V303.1M545.42 318.2V322.1" stroke="#000" stroke-width="1.25"/>
<rect x="544.13" y="303.1" width="2.58" height="15.1" fill="#fff" stroke="#000" stroke-width="1.22"/>
<path d="M547.95 273.4V274.8M547.95 303.1V303.4" stroke="#000" stroke-width="1.25"/>
<rect x="546.66" y="274.8" width="2.58" height="28.3" fill="#fff" stroke="#000" stroke-width="1.22"/>
<path d="M550.48 270.7V299.8" stroke="#dc1e1e" stroke-width="1.25"/>
<rect x="548.58" y="274.8" width="3.8" height="22.5" fill="#dc1e1e"/>
<path d="M553.01 272.2V277.7M553.01 297.2V297.2" stroke="#000" stroke-width="1.25"/>
<rect x="551.72" y="277.7" width="2.58" height="19.6" fill="#fff" stroke="#000" stroke-width="1.22"/>
<path d="M555.54 263.0V315.4" stroke="#dc1e1e" stroke-width="1.25"/>
<rect x="553.64" y="277.7" width="3.8" height="13.4" fill="#dc1e1e"/>
<path d="M558.07 270.6V274.3M558.07 291.0V296.8" stroke="#000" stroke-width="1.25"/>
<rect x="556.78" y="274.3" width="2.58" height="16.7" fill="#fff" stroke="#000" stroke-width="1.22"/>
<path d="M560.60 261.7V268.2M560.60 274.3V286.8" stroke="#000" stroke-width="1.25"/>
<rect x="559.31" y="268.2" width="2.58" height="6.2" fill="#fff" stroke="#000" stroke-width="1.22"/>
<path d="M563.13 259.1V264.1M563.13 268.2V291.8" stroke="#000" stroke-width="1.25"/>
<rect x="561.84" y="264.1" width="2.58" height="4.0" fill="#fff" stroke="#000" stroke-width="1.22"/>
<path d="M565.66 234.9V235.9M565.66 264.1V264.3" stroke="#000" stroke-width="1.25"/>
<rect x="564.37" y="235.9" width="2.58" height="28.3" fill="#fff" stroke="#000" stroke-width="1.22"/>
<path d="M568.19 209.7V214.4M568.19 235.9V243.4" stroke="#000" stroke-width="1.25"/>
<rect x="566.90" y="214.4" width="2.58" height="21.5" fill="#fff" stroke="#000" stroke-width="1.22"/>
<path d="M570.72 201.6V210.3M570.72 214.4V224.6" stroke="#000" stroke-width="1.25"/>
<rect x="569.43" y="210.3" width="2.58" height="4.1" fill="#fff" stroke="#000" stroke-width="1.22"/>
<path d="M573.25 202.6V225.6" stroke="#dc1e1e" stroke-width="1.25"/>
<rect x="571.35" y="210.3" width="3.8" height="8.6" fill="#dc1e1e"/>
<path d="M575.78 196.6V201.2M575.78 218.9V225.5" stroke="#000" stroke-width="1.25"/>
<rect x="574.49" y="201.2" width="2.58" height="17.6" fill="#fff" stroke="#000" stroke-width="1.22"/>
<path d="M578.30 178.0V209.2" stroke="#dc1e1e" stroke-width="1.25"/>
<rect x="576.40" y="201.2" width="3.8" height="5.4" fill="#dc1e1e"/>
<path d="M580.83 206.2V277.4" stroke="#dc1e1e" stroke-width="1.25"/>
<rect x="578.93" y="206.6" width="3.8" height="66.9" fill="#dc1e1e"/>
<path d="M583.36 229.0V249.1M583.36 273.6V280.7" stroke="#000" stroke-width="1.25"/>
<rect x="582.07" y="249.1" width="2.58" height="24.5" fill="#fff" stroke="#000" stroke-width="1.22"/>
<path d="M585.89 213.5V215.6M585.89 249.1V287.5" stroke="#000" stroke-width="1.25"/>
<rect x="584.60" y="215.6" width="2.58" height="33.5" fill="#fff" stroke="#000" stroke-width="1.22"/>
<path d="M588.42 177.0V189.0M588.42 215.6V215.6" stroke="#000" stroke-width="1.25"/>
<rect x="587.13" y="189.0" width="2.58" height="26.6" fill="#fff" stroke="#000" stroke-width="1.22"/>
<path d="M590.95 155.7V162.2M590.95 189.0V200.0" stroke="#000" stroke-width="1.25"/>
<rect x="589.66" y="162.2" width="2.58" height="26.9" fill="#fff" stroke="#000" stroke-width="1.22"/>
<path d="M593.48 141.2V141.5M593.48 162.2V171.9" stroke="#000" stroke-width="1.25"/>
<rect x="592.19" y="141.5" width="2.58" height="20.7" fill="#fff" stroke="#000" stroke-width="1.22"/>
<path d="M596.01 139.8V169.3" stroke="#dc1e1e" stroke-width="1.25"/>
<rect x="594.11" y="141.5" width="3.8" height="16.9" fill="#dc1e1e"/>
<path d="M598.54 123.4V138.7M598.54 158.4V167.6" stroke="#000" stroke-width="1.25"/>
<rect x="597.25" y="138.7" width="2.58" height="19.7" fill="#fff" stroke="#000" stroke-width="1.22"/>
<path d="M601.07 103.8V118.8M601.07 138.7V140.9" stroke="#000" stroke-width="1.25"/>
<rect x="599.78" y="118.8" width="2.58" height="20.0" fill="#fff" stroke="#000" stroke-width="1.22"/>
<path d="M603.60 102.0V142.5" stroke="#dc1e1e" stroke-width="1.25"/>
<rect x="601.70" y="118.8" width="3.8" height="13.7" fill="#dc1e1e"/>
<path d="M606.13 103.3V103.4M606.13 132.4V142.4" stroke="#000" stroke-width="1.25"/>
<rect x="604.84" y="103.4" width="2.58" height="29.0" fill="#fff" stroke="#000" stroke-width="1.22"/>
<path d="M608.66 83.9V121.5" stroke="#dc1e1e" stroke-width="1.25"/>
<rect x="606.76" y="103.4" width="3.8" height="18.0" fill="#dc1e1e"/>
<path d="M611.19 99.2V146.4" stroke="#dc1e1e" stroke-width="1.25"/>
<rect x="609.29" y="121.4" width="3.8" height="3.4" fill="#dc1e1e"/>
<path d="M613.71 108.0V151.1" stroke="#dc1e1e" stroke-width="1.25"/>
<rect x="611.81" y="124.8" width="3.8" height="15.4" fill="#dc1e1e"/>
<path d="M616.24 103.2V107.4M616.24 140.2V160.3" stroke="#000" stroke-width="1.25"/>
<rect x="614.95" y="107.4" width="2.58" height="32.9" fill="#fff" stroke="#000" stroke-width="1.22"/>
<path d="M618.77 81.8V96.7M618.77 107.4V114.2" stroke="#000" stroke-width="1.25"/>
<rect x="617.48" y="96.7" width="2.58" height="10.6" fill="#fff" stroke="#000" stroke-width="1.22"/>
<path d="M621.30 62.2V63.8M621.30 96.7V97.4" stroke="#000" stroke-width="1.25"/>
<rect x="620.01" y="63.8" width="2.58" height="32.9" fill="#fff" stroke="#000" stroke-width="1.22"/>
<path d="M623.83 60.2V112.6" stroke="#dc1e1e" stroke-width="1.25"/>
<rect x="621.93" y="63.8" width="3.8" height="30.6" fill="#dc1e1e"/>
<path d="M626.36 73.9V122.9" stroke="#dc1e1e" stroke-width="1.25"/>
<rect x="624.46" y="94.5" width="3.8" height="11.5" fill="#dc1e1e"/>
<path d="M628.89 29.6V51.8M628.89 106.0V114.1" stroke="#000" stroke-width="1.25"/>
<rect x="627.60" y="51.8" width="2.58" height="54.1" fill="#fff" stroke="#000" stroke-width="1.22"/>
<path d="M631.42 40.1V117.0" stroke="#dc1e1e" stroke-width="1.25"/>
<rect x="629.52" y="51.8" width="3.8" height="18.9" fill="#dc1e1e"/>
<path d="M633.95 58.8V108.1" stroke="#dc1e1e" stroke-width="1.25"/>
<rect x="632.05" y="70.7" width="3.8" height="13.0" fill="#dc1e1e"/>
<path d="M636.48 55.8V69.8M636.48 83.8V84.0" stroke="#000" stroke-width="1.25"/>
<rect x="635.19" y="69.8" width="2.58" height="13.9" fill="#fff" stroke="#000" stroke-width="1.22"/>
<path d="M639.01 44.1V86.5" stroke="#dc1e1e" stroke-width="1.25"/>
<rect x="637.11" y="69.8" width="3.8" height="9.7" fill="#dc1e1e"/>
<path d="M641.54 40.9V44.0M641.54 79.6V81.8" stroke="#000" stroke-width="1.25"/>
<rect x="640.25" y="44.0" width="2.58" height="35.6" fill="#fff" stroke="#000" stroke-width="1.22"/>
<path d="M644.07 38.9V84.2" stroke="#dc1e1e" stroke-width="1.25"/>
<rect x="642.17" y="44.0" width="3.8" height="33.3" fill="#dc1e1e"/>
<path d="M646.60 69.7V130.8" stroke="#dc1e1e" stroke-width="1.25"/>
<rect x="644.70" y="77.2" width="3.8" height="2.9" fill="#dc1e1e"/>
<path d="M649.12 76.4V135.3" stroke="#dc1e1e" stroke-width="1.25"/>
<rect x="647.23" y="80.2" width="3.8" height="46.9" fill="#dc1e1e"/>
<path d="M651.65 96.7V124.9M651.65 127.0V152.0" stroke="#000" stroke-width="1.25"/>
<rect x="650.36" y="124.9" width="2.58" height="2.2" fill="#fff" stroke="#000" stroke-width="1.22"/>
<path d="M654.18 99.0V106.1M654.18 124.9V143.6" stroke="#000" stroke-width="1.25"/>
<rect x="652.89" y="106.1" width="2.58" height="18.7" fill="#fff" stroke="#000" stroke-width="1.22"/>
<path d="M656.71 101.9V167.8" stroke="#dc1e1e" stroke-width="1.25"/>
<rect x="654.81" y="106.1" width="3.8" height="51.6" fill="#dc1e1e"/>
<path d="M659.24 146.5V222.8" stroke="#dc1e1e" stroke-width="1.25"/>
<rect x="657.34" y="157.8" width="3.8" height="32.6" fill="#dc1e1e"/>
<path d="M661.77 145.7V153.9M661.77 190.4V218.4" stroke="#000" stroke-width="1.25"/>
<rect x="660.48" y="153.9" width="2.58" height="36.5" fill="#fff" stroke="#000" stroke-width="1.22"/>
<path d="M664.30 126.6V151.3M664.30 153.9V161.0" stroke="#000" stroke-width="1.25"/>
<rect x="663.01" y="151.3" width="2.58" height="2.6" fill="#fff" stroke="#000" stroke-width="1.22"/>
<path d="M666.83 138.6V172.9" stroke="#dc1e1e" stroke-width="1.25"/>
<rect x="664.93" y="151.3" width="3.8" height="12.9" fill="#dc1e1e"/>
<path d="M669.36 157.8V188.2" stroke="#dc1e1e" stroke-width="1.25"/>
<rect x="667.46" y="164.1" width="3.8" height="5.4" fill="#dc1e1e"/>
<path d="M671.89 163.4V204.9" stroke="#dc1e1e" stroke-width="1.25"/>
<rect x="669.99" y="169.5" width="3.8" height="31.8" fill="#dc1e1e"/>
<path d="M674.42 192.4V278.7" stroke="#dc1e1e" stroke-width="1.25"/>
<rect x="672.52" y="201.3" width="3.8" height="38.0" fill="#dc1e1e"/>
<path d="M676.95 210.8V231.6M676.95 239.3V245.1" stroke="#000" stroke-width="1.25"/>
<rect x="675.66" y="231.6" width="2.58" height="7.7" fill="#fff" stroke="#000" stroke-width="1.22"/>
<path d="M679.48 189.1V198.9M679.48 231.6V233.8" stroke="#000" stroke-width="1.25"/>
<rect x="678.19" y="198.9" width="2.58" height="32.6" fill="#fff" stroke="#000" stroke-width="1.22"/>
<path d="M682.01 184.9V195.4M682.01 198.9V209.1" stroke="#000" stroke-width="1.25"/>
<rect x="680.72" y="195.4" width="2.58" height="3.5" fill="#fff" stroke="#000" stroke-width="1.22"/>
<path d="M684.54 183.6V222.6" stroke="#dc1e1e" stroke-width="1.25"/>
<rect x="682.64" y="195.4" width="3.8" height="7.3" fill="#dc1e1e"/>
<path d="M687.06 202.7V225.6" stroke="#dc1e1e" stroke-width="1.25"/>
<rect x="685.16" y="202.7" width="3.8" height="9.6" fill="#dc1e1e"/>
<path d="M689.59 184.8V195.7M689.59 212.3V212.6" stroke="#000" stroke-width="1.25"/>
<rect x="688.30" y="195.7" width="2.58" height="16.7" fill="#fff" stroke="#000" stroke-width="1.22"/>
<path d="M692.12 195.5V230.1" stroke="#dc1e1e" stroke-width="1.25"/>
<rect x="690.22" y="195.7" width="3.8" height="28.9" fill="#dc1e1e"/>
<path d="M694.65 212.4V236.0" stroke="#dc1e1e" stroke-width="1.25"/>
<rect x="692.75" y="224.6" width="3.8" height="4.0" fill="#dc1e1e"/>
<path d="M697.18 227.1V275.4" stroke="#dc1e1e" stroke-width="1.25"/>
<rect x="695.28" y="228.6" width="3.8" height="31.7" fill="#dc1e1e"/>
<path d="M699.71 258.3V348.0" stroke="#dc1e1e" stroke-width="1.25"/>
<rect x="697.81" y="260.2" width="3.8" height="32.0" fill="#dc1e1e"/>
<path d="M702.24 270.4V290.4M702.24 292.3V324.3" stroke="#000" stroke-width="1.25"/>
<rect x="700.95" y="290.4" width="2.58" height="1.8" fill="#fff" stroke="#000" stroke-width="1.22"/>
<path d="M704.77 287.2V337.9" stroke="#dc1e1e" stroke-width="1.25"/>
<rect x="702.87" y="290.4" width="3.8" height="41.3" fill="#dc1e1e"/>
<path d="M707.30 294.0V302.9M707.30 331.7V352.1" stroke="#000" stroke-width="1.25"/>
<rect x="706.01" y="302.9" width="2.58" height="28.9" fill="#fff" stroke="#000" stroke-width="1.22"/>
<path d="M709.83 279.9V282.2M709.83 302.9V308.5" stroke="#000" stroke-width="1.25"/>
<rect x="708.54" y="282.2" width="2.58" height="20.7" fill="#fff" stroke="#000" stroke-width="1.22"/>
<path d="M712.36 274.8V309.5" stroke="#dc1e1e" stroke-width="1.25"/>
<rect x="710.46" y="282.2" width="3.8" height="23.1" fill="#dc1e1e"/>
<path d="M714.89 282.7V321.5" stroke="#dc1e1e" stroke-width="1.25"/>
<rect x="712.99" y="305.3" width="3.8" height="9.9" fill="#dc1e1e"/>
<path d="M717.42 311.5V335.4" stroke="#dc1e1e" stroke-width="1.25"/>
<rect x="715.52" y="315.2" width="3.8" height="6.0" fill="#dc1e1e"/>
<path d="M719.95 298.7V318.3M719.95 321.1V343.5" stroke="#000" stroke-width="1.25"/>
<rect x="718.66" y="318.3" width="2.58" height="2.9" fill="#fff" stroke="#000" stroke-width="1.22"/>
<path d="M722.47 287.1V290.1M722.47 318.3V318.4" stroke="#000" stroke-width="1.25"/>
<rect x="721.18" y="290.1" width="2.58" height="28.2" fill="#fff" stroke="#000" stroke-width="1.22"/>
<path d="M725.00 270.2V271.0M725.00 290.1V295.9" stroke="#000" stroke-width="1.25"/>
<rect x="723.71" y="271.0" width="2.58" height="19.1" fill="#fff" stroke="#000" stroke-width="1.22"/>
<path d="M727.53 249.8V266.5M727.53 271.0V271.0" stroke="#000" stroke-width="1.25"/>
<rect x="726.24" y="266.5" width="2.58" height="4.5" fill="#fff" stroke="#000" stroke-width="1.22"/>
<path d="M730.06 249.8V260.0M730.06 266.5V271.6" stroke="#000" stroke-width="1.25"/>
<rect x="728.77" y="260.0" width="2.58" height="6.5" fill="#fff" stroke="#000" stroke-width="1.22"/>
<path d="M732.59 251.6V252.8M732.59 260.0V272.1" stroke="#000" stroke-width="1.25"/>
<rect x="731.30" y="252.8" width="2.58" height="7.3" fill="#fff" stroke="#000" stroke-width="1.22"/>
<path d="M735.12 239.6V260.0" stroke="#dc1e1e" stroke-width="1.25"/>
<rect x="733.22" y="252.8" width="3.8" height="4.9" fill="#dc1e1e"/>
<path d="M737.65 234.0V235.3M737.65 257.7V257.7" stroke="#000" stroke-width="1.25"/>
<rect x="736.36" y="235.3" width="2.58" height="22.4" fill="#fff" stroke="#000" stroke-width="1.22"/>
<path d="M740.18 230.0V232.2M740.18 235.3V243.3" stroke="#000" stroke-width="1.25"/>
<rect x="738.89" y="232.2" width="2.58" height="3.1" fill="#fff" stroke="#000" stroke-width="1.22"/>
<path d="M742.71 210.0V210.2M742.71 232.2V234.2" stroke="#000" stroke-width="1.25"/>
<rect x="741.42" y="210.2" width="2.58" height="22.0" fill="#fff" stroke="#000" stroke-width="1.22"/>
<path d="M745.24 192.4V202.3M745.24 210.2V213.0" stroke="#000" stroke-width="1.25"/>
<rect x="743.95" y="202.3" width="2.58" height="7.9" fill="#fff" stroke="#000" stroke-width="1.22"/>
<path d="M747.77 190.9V196.7M747.77 202.3V205.1" stroke="#000" stroke-width="1.25"/>
<rect x="746.48" y="196.7" width="2.58" height="5.7" fill="#fff" stroke="#000" stroke-width="1.22"/>
<path d="M750.30 189.2V220.4" stroke="#dc1e1e" stroke-width="1.25"/>
<rect x="748.40" y="196.7" width="3.8" height="7.7" fill="#dc1e1e"/>
<path d="M752.83 194.4V212.1" stroke="#dc1e1e" stroke-width="1.25"/>
<rect x="750.93" y="204.4" width="3.8" height="7.7" fill="#dc1e1e"/>
<path d="M755.36 203.7V206.6M755.36 212.1V224.8" stroke="#000" stroke-width="1.25"/>
<rect x="754.07" y="206.6" width="2.58" height="5.5" fill="#fff" stroke="#000" stroke-width="1.22"/>
<path d="M757.88 196.1V198.4M757.88 206.6V209.6" stroke="#000" stroke-width="1.25"/>
<rect x="756.59" y="198.4" width="2.58" height="8.3" fill="#fff" stroke="#000" stroke-width="1.22"/>
<path d="M760.41 198.4V223.8" stroke="#dc1e1e" stroke-width="1.25"/>
<rect x="758.51" y="198.4" width="3.8" height="16.0" fill="#dc1e1e"/>
<path d="M762.94 211.1V213.4M762.94 214.4V231.2" stroke="#000" stroke-width="1.25"/>
<rect x="761.65" y="213.4" width="2.58" height="1.3" fill="#fff" stroke="#000" stroke-width="1.22"/>
<path d="M765.47 202.2V209.1M765.47 213.4V215.4" stroke="#000" stroke-width="1.25"/>
<rect x="764.18" y="209.1" width="2.58" height="4.2" fill="#fff" stroke="#000" stroke-width="1.22"/>
<path d="M768.00 197.9V202.7M768.00 209.1V219.1" stroke="#000" stroke-width="1.25"/>
<rect x="766.71" y="202.7" width="2.58" height="6.4" fill="#fff" stroke="#000" stroke-width="1.22"/>
<path d="M770.53 178.9V184.9M770.53 202.7V203.8" stroke="#000" stroke-width="1.25"/>
<rect x="769.24" y="184.9" width="2.58" height="17.9" fill="#fff" stroke="#000" stroke-width="1.22"/>
<path d="M773.06 167.0V169.2M773.06 184.9V184.9" stroke="#000" stroke-width="1.25"/>
<rect x="771.77" y="169.2" width="2.58" height="15.6" fill="#fff" stroke="#000" stroke-width="1.22"/>
<path d="M775.59 166.8V189.0" stroke="#dc1e1e" stroke-width="1.25"/>
<rect x="773.69" y="169.2" width="3.8" height="12.6" fill="#dc1e1e"/>
<path d="M778.12 169.0V172.7M778.12 181.8V181.9" stroke="#000" stroke-width="1.25"/>
<rect x="776.83" y="172.7" width="2.58" height="9.1" fill="#fff" stroke="#000" stroke-width="1.22"/>
<path d="M780.65 162.2V189.0" stroke="#dc1e1e" stroke-width="1.25"/>
<rect x="778.75" y="172.7" width="3.8" height="9.4" fill="#dc1e1e"/>
<path d="M783.18 177.5V200.3" stroke="#dc1e1e" stroke-width="1.25"/>
<rect x="781.28" y="182.1" width="3.8" height="9.7" fill="#dc1e1e"/>
<path d="M785.71 174.3V177.6M785.71 191.8V196.2" stroke="#000" stroke-width="1.25"/>
<rect x="784.42" y="177.6" width="2.58" height="14.2" fill="#fff" stroke="#000" stroke-width="1.22"/>
<path d="M788.24 166.1V178.9" stroke="#dc1e1e" stroke-width="1.25"/>
<rect x="786.34" y="177.6" width="3.8" height="1.3" fill="#dc1e1e"/>
<path d="M790.77 155.6V160.1M790.77 177.7V180.9" stroke="#000" stroke-width="1.25"/>
<rect x="789.48" y="160.1" width="2.58" height="17.6" fill="#fff" stroke="#000" stroke-width="1.22"/>
<path d="M793.30 155.3V173.7" stroke="#dc1e1e" stroke-width="1.25"/>
<rect x="791.40" y="160.1" width="3.8" height="5.7" fill="#dc1e1e"/>
<path d="M795.82 156.5V162.3M795.82 165.8V171.9" stroke="#000" stroke-width="1.25"/>
<rect x="794.53" y="162.3" width="2.58" height="3.5" fill="#fff" stroke="#000" stroke-width="1.22"/>
<path d="M798.35 160.5V187.2" stroke="#dc1e1e" stroke-width="1.25"/>
<rect x="796.45" y="162.3" width="3.8" height="8.9" fill="#dc1e1e"/>
<path d="M800.88 145.2V153.9M800.88 171.3V173.7" stroke="#000" stroke-width="1.25"/>
<rect x="799.59" y="153.9" width="2.58" height="17.4" fill="#fff" stroke="#000" stroke-width="1.22"/>
<path d="M803.41 143.1V155.0" stroke="#dc1e1e" stroke-width="1.25"/>
<rect x="801.51" y="153.9" width="3.8" height="1.3" fill="#dc1e1e"/>
<path d="M805.94 135.3V141.3M805.94 154.3V155.4" stroke="#000" stroke-width="1.25"/>
<rect x="804.65" y="141.3" width="2.58" height="13.0" fill="#fff" stroke="#000" stroke-width="1.22"/>
<path d="M808.47 134.2V141.1M808.47 141.3V152.2" stroke="#000" stroke-width="1.25"/>
<rect x="807.18" y="141.1" width="2.58" height="1.3" fill="#fff" stroke="#000" stroke-width="1.22"/>
<path d="M811.00 128.7V135.3M811.00 141.1V146.1" stroke="#000" stroke-width="1.25"/>
<rect x="809.71" y="135.3" width="2.58" height="5.8" fill="#fff" stroke="#000" stroke-width="1.22"/>
<path d="M813.53 125.7V128.8M813.53 135.3V141.1" stroke="#000" stroke-width="1.25"/>
<rect x="812.24" y="128.8" width="2.58" height="6.4" fill="#fff" stroke="#000" stroke-width="1.22"/>
<path d="M816.06 122.2V155.6" stroke="#dc1e1e" stroke-width="1.25"/>
<rect x="814.16" y="128.8" width="3.8" height="16.6" fill="#dc1e1e"/>
<path d="M818.59 137.0V145.4M818.59 145.4V166.2" stroke="#000" stroke-width="1.25"/>
<rect x="817.30" y="145.4" width="2.58" height="1.3" fill="#fff" stroke="#000" stroke-width="1.22"/>
<path d="M821.12 141.2V142.7M821.12 145.4V164.1" stroke="#000" stroke-width="1.25"/>
<rect x="819.83" y="142.7" width="2.58" height="2.6" fill="#fff" stroke="#000" stroke-width="1.22"/>
<path d="M823.65 130.4V131.6M823.65 142.7V149.0" stroke="#000" stroke-width="1.25"/>
<rect x="822.36" y="131.6" width="2.58" height="11.1" fill="#fff" stroke="#000" stroke-width="1.22"/>
<path d="M826.18 116.7V118.5M826.18 131.6V136.9" stroke="#000" stroke-width="1.25"/>
<rect x="824.89" y="118.5" width="2.58" height="13.1" fill="#fff" stroke="#000" stroke-width="1.22"/>
<path d="M828.71 96.5V101.2M828.71 118.5V122.1" stroke="#000" stroke-width="1.25"/>
<rect x="827.42" y="101.2" width="2.58" height="17.2" fill="#fff" stroke="#000" stroke-width="1.22"/>
<path d="M831.23 89.0V91.9M831.23 101.2V108.2" stroke="#000" stroke-width="1.25"/>
<rect x="829.94" y="91.9" width="2.58" height="9.3" fill="#fff" stroke="#000" stroke-width="1.22"/>
<path d="M833.76 79.2V84.7M833.76 91.9V98.0" stroke="#000" stroke-width="1.25"/>
<rect x="832.47" y="84.7" width="2.58" height="7.2" fill="#fff" stroke="#000" stroke-width="1.22"/>
<path d="M836.29 75.1V76.5M836.29 84.7V90.6" stroke="#000" stroke-width="1.25"/>
<rect x="835.00" y="76.5" width="2.58" height="8.2" fill="#fff" stroke="#000" stroke-width="1.22"/>
<path d="M838.82 67.0V96.5" stroke="#dc1e1e" stroke-width="1.25"/>
<rect x="836.92" y="76.5" width="3.8" height="12.9" fill="#dc1e1e"/>
<path d="M841.35 76.3V83.7M841.35 89.4V107.0" stroke="#000" stroke-width="1.25"/>
<rect x="840.06" y="83.7" width="2.58" height="5.8" fill="#fff" stroke="#000" stroke-width="1.22"/>
<path d="M843.88 52.0V58.5M843.88 83.7V85.5" stroke="#000" stroke-width="1.25"/>
<rect x="842.59" y="58.5" width="2.58" height="25.2" fill="#fff" stroke="#000" stroke-width="1.22"/>
<path d="M846.41 36.7V38.7M846.41 58.5V60.8" stroke="#000" stroke-width="1.25"/>
<rect x="845.12" y="38.7" width="2.58" height="19.8" fill="#fff" stroke="#000" stroke-width="1.22"/>
<path d="M848.94 34.6V57.7" stroke="#dc1e1e" stroke-width="1.25"/>
<rect x="847.04" y="38.7" width="3.8" height="11.2" fill="#dc1e1e"/>
<path d="M851.47 28.3V70.0" stroke="#dc1e1e" stroke-width="1.25"/>
<rect x="849.57" y="49.9" width="3.8" height="19.7" fill="#dc1e1e"/>
<path d="M854.00 49.6V61.9M854.00 69.6V104.2" stroke="#000" stroke-width="1.25"/>
<rect x="852.71" y="61.9" width="2.58" height="7.7" fill="#fff" stroke="#000" stroke-width="1.22"/>
<path d="M856.53 35.4V40.3M856.53 61.9V76.1" stroke="#000" stroke-width="1.25"/>
<rect x="855.24" y="40.3" width="2.58" height="21.6" fill="#fff" stroke="#000" stroke-width="1.22"/>
<path d="M859.06 20.1V31.0M859.06 40.3V55.5" stroke="#000" stroke-width="1.25"/>
<rect x="857.77" y="31.0" width="2.58" height="9.3" fill="#fff" stroke="#000" stroke-width="1.22"/>
<path d="M861.59 31.0V89.7" stroke="#dc1e1e" stroke-width="1.25"/>
<rect x="859.69" y="31.0" width="3.8" height="28.0" fill="#dc1e1e"/>
<path d="M864.12 41.6V77.6" stroke="#dc1e1e" stroke-width="1.25"/>
<rect x="862.22" y="59.0" width="3.8" height="5.2" fill="#dc1e1e"/>
<path d="M866.64 62.8V145.4" stroke="#dc1e1e" stroke-width="1.25"/>
<rect x="864.74" y="64.2" width="3.8" height="36.8" fill="#dc1e1e"/>
<path d="M869.17 93.8V126.3" stroke="#dc1e1e" stroke-width="1.25"/>
<rect x="867.27" y="101.0" width="3.8" height="19.6" fill="#dc1e1e"/>
<path d="M871.70 108.7V150.8" stroke="#dc1e1e" stroke-width="1.25"/>
<rect x="869.80" y="120.6" width="3.8" height="3.2" fill="#dc1e1e"/>
<path d="M874.23 90.3V98.1M874.23 123.9V123.9" stroke="#000" stroke-width="1.25"/>
<rect x="872.94" y="98.1" width="2.58" height="25.8" fill="#fff" stroke="#000" stroke-width="1.22"/>
<path d="M876.76 75.7V92.0M876.76 98.1V103.2" stroke="#000" stroke-width="1.25"/>
<rect x="875.47" y="92.0" width="2.58" height="6.1" fill="#fff" stroke="#000" stroke-width="1.22"/>
<path d="M879.29 90.5V144.6" stroke="#dc1e1e" stroke-width="1.25"/>
<rect x="877.39" y="92.0" width="3.8" height="49.3" fill="#dc1e1e"/>
<path d="M881.82 136.4V173.9" stroke="#dc1e1e" stroke-width="1.25"/>
<rect x="879.92" y="141.4" width="3.8" height="5.2" fill="#dc1e1e"/>
<path d="M884.35 127.8V140.2M884.35 146.5V154.7" stroke="#000" stroke-width="1.25"/>
<rect x="883.06" y="140.2" width="2.58" height="6.3" fill="#fff" stroke="#000" stroke-width="1.22"/>
<path d="M886.88 131.9V212.5" stroke="#dc1e1e" stroke-width="1.25"/>
<rect x="884.98" y="140.2" width="3.8" height="47.7" fill="#dc1e1e"/>
<path d="M889.41 187.6V321.7" stroke="#dc1e1e" stroke-width="1.25"/>
<rect x="887.51" y="187.9" width="3.8" height="81.0" fill="#dc1e1e"/>
<path d="M891.94 253.0V363.2" stroke="#dc1e1e" stroke-width="1.25"/>
<rect x="890.04" y="268.9" width="3.8" height="29.7" fill="#dc1e1e"/>
<path d="M894.47 289.3V295.7M894.47 298.6V331.6" stroke="#000" stroke-width="1.25"/>
<rect x="893.18" y="295.7" width="2.58" height="2.9" fill="#fff" stroke="#000" stroke-width="1.22"/>
<path d="M897.00 279.1V336.8" stroke="#dc1e1e" stroke-width="1.25"/>
<rect x="895.10" y="295.7" width="3.8" height="40.0" fill="#dc1e1e"/>
<path d="M898.4 307.3V364.8" stroke="#dc1e1e" stroke-width="1"/></g>
<g filter="url(#sh)"><circle cx="660.2" cy="21.0" r="13.78" fill="url(#rg)" stroke="#c2222f" stroke-width="1.84"/></g>
<text x="660.2" y="28.9" text-anchor="middle" class="ms" font-size="23.6" >3</text>
<g filter="url(#sh)"><circle cx="881.1" cy="20.8" r="17.72" fill="url(#rg)" stroke="#c2222f" stroke-width="2.36"/></g>
<text x="881.1" y="29.9" text-anchor="middle" class="mk" font-size="28.5" >B</text>
<g filter="url(#sh)"><circle cx="707.9" cy="376.6" r="17.44" fill="url(#rg)" stroke="#c2222f" stroke-width="2.33"/></g>
<text x="707.9" y="384.5" text-anchor="middle" class="mk" font-size="28.5" >A</text>
<path d="M1 627.45H973.8M901.9 1V627.4" stroke="#dc1e1e" stroke-width="1.3" fill="none"/>
<path d="M901.9 92.2H906.8" stroke="#dc1e1e" stroke-width="1.2"/>
<text x="909.3" y="97.8" class="ax" textLength="61.7" lengthAdjust="spacingAndGlyphs">1,400.00</text>
<path d="M907.8 100.0H970.1" stroke="#111" stroke-width="1.6"/>
<path d="M901.9 174.1H906.8" stroke="#dc1e1e" stroke-width="1.2"/>
<text x="909.3" y="179.7" class="ax" textLength="61.7" lengthAdjust="spacingAndGlyphs">1,200.00</text>
<path d="M907.8 181.9H970.1" stroke="#111" stroke-width="1.6"/>
<path d="M901.9 256.1H906.8" stroke="#dc1e1e" stroke-width="1.2"/>
<text x="909.3" y="261.7" class="ax" textLength="61.7" lengthAdjust="spacingAndGlyphs">1,000.00</text>
<path d="M907.8 263.9H970.1" stroke="#111" stroke-width="1.6"/>
<path d="M901.9 338.0H906.8" stroke="#dc1e1e" stroke-width="1.2"/>
<text x="909.3" y="343.6" class="ax" textLength="49.3" lengthAdjust="spacingAndGlyphs">800.00</text>
<path d="M907.8 345.8H957.7" stroke="#111" stroke-width="1.6"/>
<path d="M901.9 419.9H906.8" stroke="#dc1e1e" stroke-width="1.2"/>
<text x="909.3" y="425.5" class="ax" textLength="49.3" lengthAdjust="spacingAndGlyphs">600.00</text>
<path d="M907.8 427.7H957.7" stroke="#111" stroke-width="1.6"/>
<path d="M901.9 501.9H906.8" stroke="#dc1e1e" stroke-width="1.2"/>
<text x="909.3" y="507.5" class="ax" textLength="49.3" lengthAdjust="spacingAndGlyphs">400.00</text>
<path d="M907.8 509.7H957.7" stroke="#111" stroke-width="1.6"/>
<path d="M901.9 583.8H906.8" stroke="#dc1e1e" stroke-width="1.2"/>
<text x="909.3" y="589.4" class="ax" textLength="49.3" lengthAdjust="spacingAndGlyphs">200.00</text>
<path d="M907.8 591.6H957.7" stroke="#111" stroke-width="1.6"/>
<path d="M16.80 627.4V637.5" stroke="#dc1e1e" stroke-width="1.2"/>
<text x="8.0" y="651.4" class="ax" textLength="21.7" lengthAdjust="spacingAndGlyphs">'80</text>
<path d="M5.0 653.8H27.6" stroke="#111" stroke-width="1.6"/>
<path d="M168.56 627.4V637.5" stroke="#dc1e1e" stroke-width="1.2"/>
<text x="159.8" y="651.4" class="ax" textLength="21.7" lengthAdjust="spacingAndGlyphs">'85</text>
<path d="M156.8 653.8H179.4" stroke="#111" stroke-width="1.6"/>
<path d="M320.32 627.4V637.5" stroke="#dc1e1e" stroke-width="1.2"/>
<text x="311.5" y="651.4" class="ax" textLength="21.7" lengthAdjust="spacingAndGlyphs">'90</text>
<path d="M308.5 653.8H331.1" stroke="#111" stroke-width="1.6"/>
<path d="M472.07 627.4V637.5" stroke="#dc1e1e" stroke-width="1.2"/>
<text x="463.3" y="651.4" class="ax" textLength="21.7" lengthAdjust="spacingAndGlyphs">'95</text>
<path d="M460.3 653.8H482.9" stroke="#111" stroke-width="1.6"/>
<path d="M623.83 627.4V637.5" stroke="#dc1e1e" stroke-width="1.2"/>
<text x="615.0" y="651.4" class="ax" textLength="21.7" lengthAdjust="spacingAndGlyphs">'00</text>
<path d="M612.0 653.8H634.6" stroke="#111" stroke-width="1.6"/>
<path d="M775.59 627.4V637.5" stroke="#dc1e1e" stroke-width="1.2"/>
<text x="766.8" y="651.4" class="ax" textLength="21.7" lengthAdjust="spacingAndGlyphs">'05</text>
<path d="M763.8 653.8H786.4" stroke="#111" stroke-width="1.6"/>
<g filter="url(#sh)"><circle cx="911.4" cy="391.9" r="17.25" fill="url(#rg)" stroke="#c2222f" stroke-width="2.30"/></g>
<text x="911.4" y="400.2" text-anchor="middle" class="mk" font-size="28.5" >C</text>
<g filter="url(#sh)"><circle cx="910.2" cy="450.0" r="18.09" fill="url(#rg)" stroke="#c2222f" stroke-width="2.41"/></g>
<text x="910.2" y="460.1" text-anchor="middle" class="ms" font-size="30" stroke="#000" stroke-width="0.9">4</text>
<text x="629.8" y="34.8" class="five">5</text>
<text y="622.6" class="cr"><tspan x="717.0" textLength="54.4" lengthAdjust="spacingAndGlyphs">Created</tspan> <tspan x="776.3" textLength="29.5" lengthAdjust="spacingAndGlyphs">with</tspan> <tspan x="811.0" textLength="38.8" lengthAdjust="spacingAndGlyphs">Trade</tspan><tspan x="852.2" textLength="46.2" lengthAdjust="spacingAndGlyphs">Station</tspan></text>
</svg></body></html>
